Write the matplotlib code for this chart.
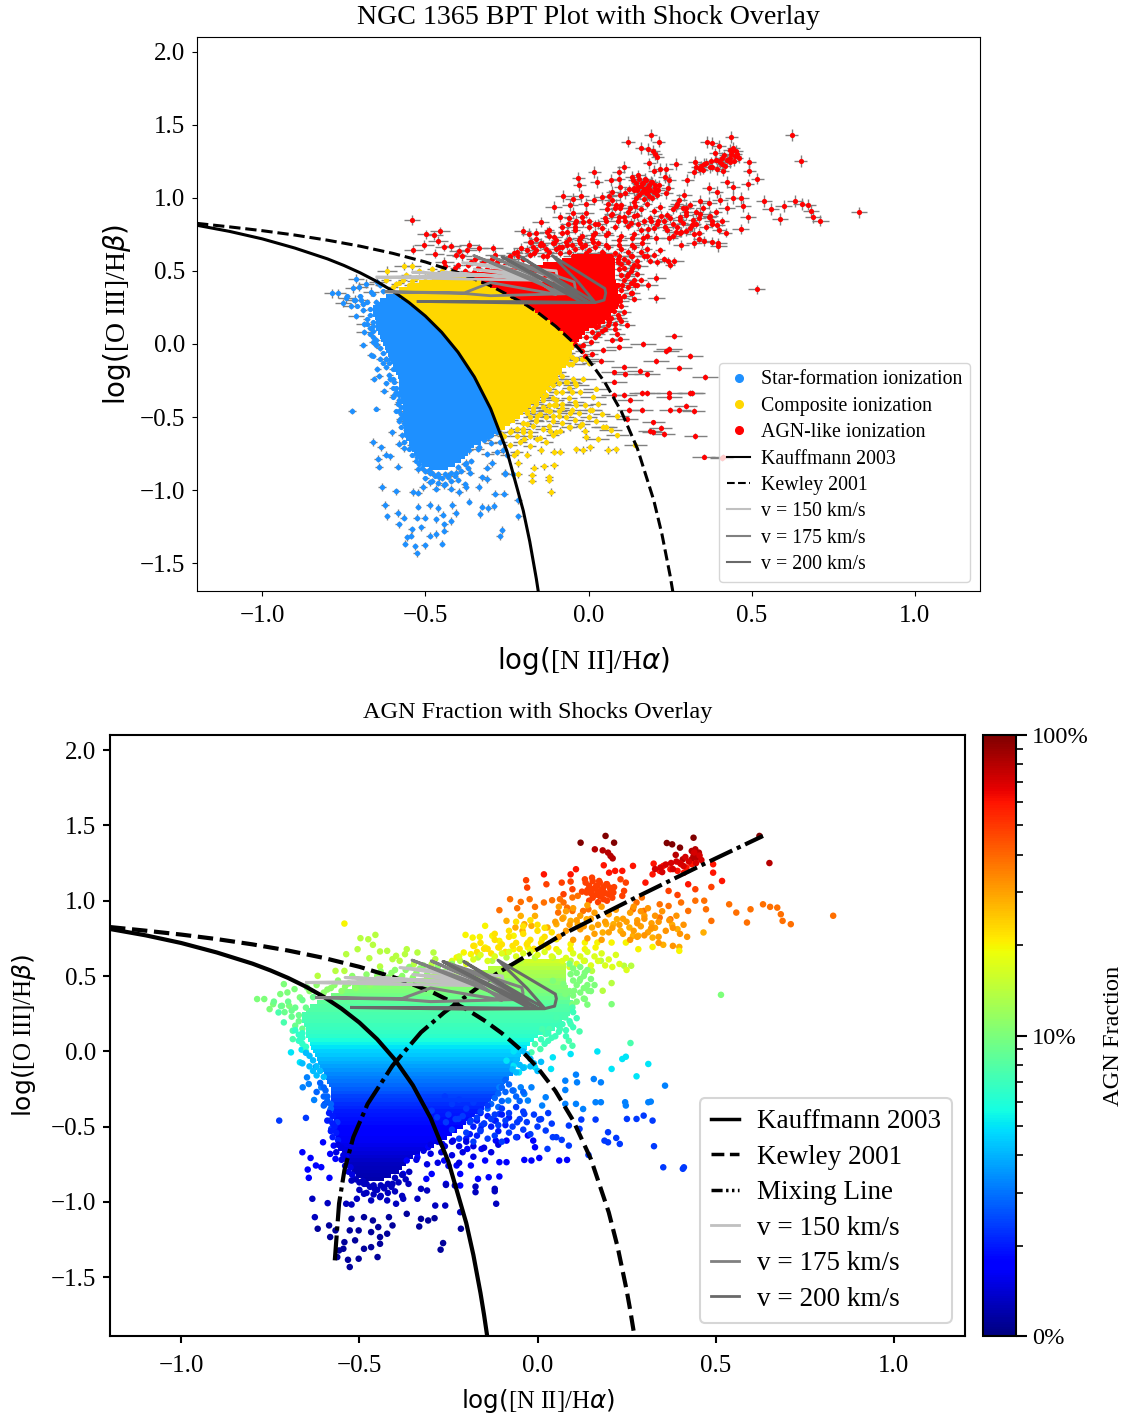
import numpy as np
import matplotlib
matplotlib.use('Agg')
import matplotlib.pyplot as plt
from matplotlib.colors import LogNorm
from matplotlib.cm import ScalarMappable
from matplotlib.lines import Line2D

plt.rcParams['font.family'] = ['Liberation Serif', 'DejaVu Sans']

# demarcation curves
kauf_x = [-1.2, -1.1, -1.0, -0.9, -0.8, -0.75, -0.7, -0.65, -0.6, -0.55, -0.5, -0.45, -0.4, -0.35, -0.3, -0.25, -0.2, -0.18, -0.16, -0.15, -0.14]
kauf_y = [0.812, 0.770, 0.719, 0.656, 0.582, 0.5375, 0.487, 0.429, 0.362, 0.283, 0.191, 0.08, -0.056, -0.225, -0.443, -0.733, -1.14, -1.352, -1.605, -1.75, -1.91]
kew_x = [-1.2, -1.1, -1.0, -0.9, -0.8, -0.7, -0.6, -0.5, -0.4, -0.3, -0.2, -0.15, -0.1, -0.05, 0.0, 0.05, 0.1, 0.15, 0.2, 0.225, 0.25, 0.26, 0.27, 0.275]
kew_y = [0.825, 0.801, 0.775, 0.745, 0.710, 0.669, 0.620, 0.561, 0.489, 0.398, 0.280, 0.206, 0.120, 0.017, -0.108, -0.262, -0.459, -0.716, -1.069, -1.30, -1.583, -1.715, -1.86, -1.94]
mix_x = [-0.569, -0.557, -0.542, -0.517, -0.477, -0.407, -0.327, -0.262, -0.117, 0.063, 0.283, 0.473, 0.633]
mix_y = [-1.388, -1.01, -0.79, -0.57, -0.35, -0.095, 0.126, 0.258, 0.512, 0.767, 1.03, 1.25, 1.43]

# shock grids
v150_x = [-0.648, -0.4, -0.106, -0.095, -0.099, -0.386, -0.14, -0.35, -0.12, -0.45, -0.16, -0.54, -0.3, -0.648]
v150_y = [0.457, 0.445, 0.434, 0.445, 0.5, 0.556, 0.47, 0.51, 0.44, 0.49, 0.45, 0.49, 0.47, 0.457]
v175_x = [-0.62, -0.38, -0.3, -0.041, -0.041, -0.044, -0.265, -0.13, -0.06, -0.298, -0.12, -0.08, -0.352, -0.16, -0.1, -0.3, -0.38, -0.62]
v175_y = [0.357, 0.345, 0.33, 0.345, 0.39, 0.424, 0.596, 0.47, 0.36, 0.6, 0.42, 0.345, 0.605, 0.44, 0.34, 0.42, 0.35, 0.357]
v200_x = [-0.522, -0.2, 0.02, 0.048, 0.053, 0.05, -0.111, -0.03, 0.02, -0.207, -0.05, 0.0, -0.265, -0.08, -0.02, -0.2, -0.522]
v200_y = [0.291, 0.28, 0.283, 0.3, 0.35, 0.38, 0.605, 0.42, 0.285, 0.596, 0.36, 0.285, 0.596, 0.36, 0.285, 0.29, 0.291]

# dense part of the cloud, one row per log(OIII/Hb) step
blob_y = [0.6, 0.575, 0.55, 0.525, 0.5, 0.475, 0.45, 0.425, 0.4, 0.375, 0.35, 0.325, 0.3, 0.275, 0.25, 0.225, 0.2, 0.175, 0.15, 0.125, 0.1, 0.075, 0.05, 0.025, 0.0,
          -0.025, -0.05, -0.075, -0.1, -0.125, -0.15, -0.175, -0.2, -0.225, -0.25, -0.275, -0.3, -0.325, -0.35, -0.375, -0.4, -0.425, -0.45, -0.475, -0.5,
          -0.525, -0.55, -0.575, -0.6, -0.625, -0.65, -0.675, -0.7, -0.725, -0.75, -0.775, -0.8, -0.825, -0.85]
blob_left = [-0.05, -0.08, -0.14, -0.24, -0.32, -0.42, -0.48, -0.52, -0.55, -0.58, -0.6, -0.62, -0.64, -0.65, -0.66, -0.66, -0.66, -0.655, -0.65, -0.65, -0.65, -0.645, -0.64, -0.635, -0.63,
             -0.625, -0.62, -0.615, -0.61, -0.605, -0.6, -0.595, -0.59, -0.585, -0.58, -0.58, -0.58, -0.58, -0.58, -0.575, -0.575, -0.57, -0.57, -0.57, -0.57,
             -0.57, -0.57, -0.565, -0.565, -0.56, -0.56, -0.55, -0.545, -0.54, -0.535, -0.53, -0.52, -0.51, -0.49]
blob_right = [0.07, 0.08, 0.08, 0.08, 0.08, 0.08, 0.08, 0.085, 0.09, 0.09, 0.09, 0.1, 0.1, 0.095, 0.09, 0.08, 0.07, 0.06, 0.05, 0.025, 0.0, -0.01, -0.02, -0.03, -0.04,
              -0.045, -0.05, -0.055, -0.06, -0.065, -0.07, -0.08, -0.09, -0.095, -0.1, -0.11, -0.12, -0.13, -0.14, -0.15, -0.16, -0.175, -0.185, -0.2, -0.21,
              -0.225, -0.24, -0.255, -0.27, -0.29, -0.31, -0.33, -0.35, -0.36, -0.37, -0.38, -0.39, -0.41, -0.43]
blob_frac = [16, 15, 14, 13, 12.6, 11.5, 11, 10.5, 10, 9.5, 9, 8.5, 8, 7.8, 7.6, 7.4, 7.3, 7.1, 6.9, 6.7, 6.4, 5.9, 5.4, 5.0, 4.6,
             4.4, 4.1, 3.9, 3.7, 3.5, 3.3, 3.15, 3.0, 2.85, 2.7, 2.55, 2.4, 2.3, 2.2, 2.1, 2.0, 1.95, 1.9, 1.85, 1.8,
             1.75, 1.7, 1.65, 1.6, 1.55, 1.5, 1.45, 1.4, 1.35, 1.3, 1.27, 1.25, 1.22, 1.2]

# individual points, grouped by estimated AGN fraction and error size
band_frac = [100, 80, 60, 48, 38, 28, 20, 14, 10, 7.5, 5, 5, 3.2, 3.2, 2.3, 2.3, 1.7, 1.3, 1.12,
             48, 70, 30, 22, 17, 11, 10, 9, 7, 6.5, 4.2, 4.2, 2.8, 2.8, 2, 2, 1.5, 1.5, 1.3, 2.3, 32]
band_xerr = [0.02, 0.02, 0.02, 0.02, 0.025, 0.025, 0.025, 0.03, 0.025, 0.025, 0.012, 0.04, 0.012, 0.04, 0.012, 0.035, 0.012, 0.012, 0.01,
             0.015, 0.015, 0.015, 0.015, 0.015, 0.015, 0.02, 0.01, 0.02, 0.01, 0.01, 0.02, 0.01, 0.02, 0.01, 0.02, 0.01, 0.02, 0.01, 0.025, 0.02]
band_yerr = [0.04, 0.04, 0.04, 0.04, 0.04, 0.035, 0.035, 0.03, 0.03, 0.02, 0.02, 0.02, 0.02, 0.02, 0.02, 0.02, 0.025, 0.025, 0.025,
             0.03, 0.03, 0.03, 0.03, 0.025, 0.02, 0.02, 0.015, 0.02, 0.015, 0.015, 0.02, 0.015, 0.02, 0.015, 0.02, 0.015, 0.02, 0.02, 0.02, 0.03]
band_x = [
    [.121, .191, .215, .438, .363, .378, .623, .400],
    [.161, .183, .198, .205, .211, .433, .443, .453, .438, .448, .388, .408, .433, .651],
    [.186, .268, .238, .218, .201, .326, .353, .373, .403, .418, .323, .343, .393, .411, .433, .493, .493, .518, .423, .303, .018, .108, .093],
    [-.032, -.029, .025, .068, .093, .133, .153, .173, .193, .183, .168, .203, .153, .138, .178, .213, .233, .248, .243, .238, .098, .073, .368, .393, .443, .488],
    [-.077, -.047, -.022, .018, .041, .063, .073, .098, .113, .128, .143, .098, .083, .058, .278, .268, .293, .343, .368, .403, .443, .468, .473, .423, .538, .558, .598, .633, .653, .673, .683, .488, .588, .688, .711, .373, .343, .298, -.107, -.057, -.007, .83],
    [-.087, -.062, -.037, -.017, -.042, -.007, -.047, .073, .093, .113, .153, .183, .213, .233, .258, .283, .323, .353, .318, .378, .393, .398, .268, .193, .223, .138, .466, .053, .028],
    [-.202, -.182, -.162, -.147, -.127, -.107, -.067, -.027, .013, .053, .093, .133, .168, .208, .248, .283, .323, .398, -.177, -.147, -.107, -.067, -.027, .013, .053, .093, .133, .163, -.207, -.227, -.187, -.542],
    [-.497, -.475, -.455, -.505, -.462, -.472, -.537, -.442, -.422, -.397, -.367, -.337, -.292, -.287, -.372, -.407, -.247, -.217, -.167, -.127, -.087, -.047, -.007, .043, .093, .133, .178, .243, .263, .153, .208, .183, -.617, -.567, -.542, -.442, -.387, -.347, -.297],
    [-.712, -.702, -.722, -.682, .118, .133, .093, .073, .043, .143, .515, .208, .133, .098, .078, .103, -.787, -.767, -.742, -.717, -.752, -.697, -.667, -.647],
    [-.727, -.712, -.687, -.687, .093, .118, .063, .033, .013, .078, .098, .053, .088, .098, .073, -.007, .023, .261, -.017, .008],
    [-.692, -.662, -.667],
    [.093, .043, .038, .168, .238, .248, .311, .208, -.037, -.067, -.067, -.007, .278, -.087, -.052],
    [-.622, -.647, -.642, -.659, -.607, -.627],
    [.078, .078, .108, .111, .158, .178, .358, -.107, -.047, -.017, -.037, -.027, .023, .013, .078, .108, .128, .163, .178, .246, .248, .311, .318, -.067, -.082],
    [-.725, -.65, -.597, -.582, -.582, -.562, -.579],
    [.005, -.037, -.057, -.107, -.117, -.157, -.187, -.222, -.257, -.282, -.297, .088, .118, .123, .163, .251, .278, .298, .323, .198, .188, .198, .221, .231, .327, .353, .408, .411, .143, .023, .043, .053, .068, .088, .028],
    [-.602, -.572, -.582, -.567, -.537, -.66, -.637, -.622, -.607, -.645, -.584, -.642, -.367, -.337, -.307, -.267, -.237, -.197, -.157, -.117, -.087, -.057, -.027, -.012, -.007, -.037, -.017, .005, .061, .083, -.107, -.087, -.147, -.187, -.227, -.262, -.297, -.312, -.377, -.217, -.167, -.137, -.107, -.257, -.217],
    [-.522, -.487, -.457, -.432, -.407, -.362, -.327, -.31, -.257, -.232, -.174, -.174, -.12, -.12, -.116, -.632, -.589, -.537, -.522, -.507, -.487, -.467, -.442, -.422, -.397, -.377, -.337, -.287, -.259, -.217, -.625],
    [-.617, -.585, -.567, -.582, -.522, -.487, -.462, -.417, -.367, -.327, -.307, -.289, -.332, -.407, -.447, -.467, -.502, -.527, -.422, -.442, -.512, -.542, -.557, -.545, -.532, -.487, -.467, -.442, -.449, -.502, -.527, -.562, -.265, -.272, -.215],
    [.135, .145, .155, .165, .175, .185, .195, .205, .215, .125, .14, .15, .16, .17, .18, .19, .2, .21, .155, .165, .175, .185, .145, .195, .17],
    [.33, .345, .36, .375, .39, .40, .415, .425, .44, .455, .46, .35, .38, .41, .445],
    [.06, .08, .10, .12, .14, .16, .18, .20, .22, .24, .26, .28, .30, .32, .05, .07, .09, .11, .13, .15, .17, .19, .21, .23, .25, .27, .29, .31, .33, .34, .08, .12, .16, .20, .24, .28, .06, .10, .14, .18],
    [-.18, -.16, -.14, -.12, -.10, -.08, -.06, -.04, -.02, 0, .02, .04, -.17, -.15, -.13, -.11, -.09, -.07, -.05, -.03, -.01, .01, .03, -.12, -.08, -.04, 0, -.06, -.02, .02],
    [-.24, -.22, -.20, -.18, -.16, -.14, -.12, -.10, -.08, -.06, -.04, -.02, 0, .02, .04, .06, .08, .10, .12, .14, .16, .18, .20, .22, .11, .13, .15, .17, .19, .09, .07, .21, .23, .25],
    [-.64, -.62, -.60, -.58, -.56, -.54, -.52, -.50, -.48, -.46, -.44, -.42, -.40, -.38, -.36, -.34, -.32, -.30, -.59, -.57, -.55, -.53, -.51, -.49, -.47, -.45, -.43, -.41, -.39, -.37, -.35, -.33, -.31, -.28, -.26, -.24],
    [.09, .10, .11, .12, .13, .14, .15, .10, .11, .12, .13, .14, .09, .10, .12, .13, .15, .16, .11, .14],
    [-.74, -.72, -.70, -.68, -.66, -.71, -.69, -.67, -.65, -.63, -.69, -.67, -.68, -.66],
    [.10, .11, .09, .07, .08, .06, .05, .04, .03, .02, .06, .03, .01, .10, .08],
    [-.68, -.67, -.66, -.67, -.66, -.65, -.66, -.65],
    [-.65, -.64, -.63, -.66, -.64, -.62, -.63, -.61, -.62, -.60],
    [-.04, -.03, -.02, -.06, -.05, -.04, -.07, -.06, -.02, -.01, .0, .01],
    [-.61, -.6, -.595, -.62, -.60, -.59, -.59, -.58, -.60, -.58],
    [-.09, -.08, -.10, -.09, -.11, -.07, -.12, -.10, -.13, -.11, -.06, -.05, -.04, -.14],
    [-.585, -.575, -.59, -.575, -.57, -.58, -.565, -.575, -.56],
    [-.16, -.14, -.17, -.15, -.18, -.16, -.19, -.17, -.20, -.13, -.12, -.11, -.10, -.09, -.08],
    [-.56, -.55, -.565, -.545, -.55, -.535, -.54, -.525, -.53, -.52],
    [-.30, -.28, -.26, -.24, -.22, -.20, -.18, -.32, -.30, -.27, -.24, -.21, -.18, -.15, -.13, -.11, -.34, -.31, -.28, -.25, -.22],
    [-.51, -.50, -.49, -.48, -.47, -.46, -.45, -.44, -.43, -.42, -.41, -.40, -.39, -.38, -.37, -.36, -.50, -.48, -.46, -.44, -.42, -.40, -.38],
    [-.26, -.24, -.22, -.20, -.18, -.16, -.14, -.12, -.10, -.08, -.06, -.04, -.25, -.23, -.21, -.19, -.17, -.15, -.13, -.11, -.09, -.07, -.05, -.03, -.01, .01, .03, -.24, -.20, -.16, -.12, -.08, -.04, 0, .04, -.22, -.18, -.14, -.10, -.06, -.02],
    [.27, .29, .31, .33, .35, .37, .39, .41, .28, .30, .32, .34, .36, .38, .40, .42, .26, .30, .34, .38],
]
band_y = [
    [1.385, 1.43, 1.385, 1.418, 1.383, 1.374, 1.43, 1.352],
    [1.341, 1.334, 1.319, 1.297, 1.281, 1.33, 1.341, 1.319, 1.297, 1.286, 1.304, 1.275, 1.275, 1.25],
    [1.235, 1.231, 1.198, 1.198, 1.186, 1.246, 1.231, 1.209, 1.242, 1.22, 1.175, 1.198, 1.198, 1.186, 1.242, 1.242, 1.186, 1.131, 1.109, 1.12, 1.175, 1.209, 1.175],
    [1.136, 1.087, 1.109, 1.12, 1.127, 1.142, 1.153, 1.131, 1.109, 1.076, 1.098, 1.087, 1.076, 1.054, 1.032, 1.054, 1.142, 1.12, 1.065, 1.032, 1.076, 1.043, 1.065, 1.038, 1.076, 1.091],
    [1.01, .992, 1.01, .988, 1.003, 1.01, .988, 1.021, 1.032, .932, .943, .932, .954, .921, .988, .943, 1.021, .976, .965, .988, 1.0, 1.0, .943, .932, .976, .921, .943, .976, .959, .954, .91, .866, .855, .866, .844, .877, .888, .932, .937, .95, .959, .90],
    [.866, .822, .844, .833, .8, .899, .899, .888, .866, .844, .822, .789, .844, .8, .822, .767, .755, .707, .811, .84, .811, .693, .767, .844, .877, .877, .789, .844, .822],
    [.773, .755, .76, .833, .767, .733, .767, .722, .744, .744, .711, .722, .722, .722, .722, .678, .693, .667, .7, .689, .689, .678, .689, .7, .678, .678, .678, .689, .656, .623, .645, .848],
    [.751, .744, .773, .678, .707, .618, .645, .663, .667, .634, .678, .656, .656, .612, .645, .612, .579, .601, .623, .601, .623, .601, .623, .623, .601, .601, .601, .568, .568, .534, .453, .402, .501, .534, .534, .563, .601, .579, .579],
    [.446, .391, .38, .413, .468, .523, .512, .446, .468, .402, .375, .313, .347, .313, .38, .402, .347, .347, .313, .302, .28, .302, .358, .424],
    [.258, .192, .137, .081, .181, .132, .148, .148, .148, .225, .291, .225, .07, .037, .026, .048, .115, .055, -.007, .015],
    [-.007, .011, -.073],
    [-.018, -.04, -.117, -.001, -.051, -.036, -.084, -.117, -.106, -.095, .0, -.106, -.166, -.062, -.14],
    [-.102, -.173, -.217, -.239, -.239, -.323],
    [-.195, -.257, -.155, -.206, -.184, -.206, -.228, -.239, -.239, -.239, -.283, -.327, -.305, -.36, -.349, -.349, -.383, -.338, -.338, -.338, -.36, -.338, -.334, -.261, -.327],
    [-.46, -.442, -.35, -.394, -.46, -.471, -.515],
    [-.453, -.416, -.471, -.416, -.46, -.493, -.46, -.449, -.471, -.438, -.394, -.493, -.515, -.453, -.453, -.449, -.449, -.427, -.46, -.537, -.593, -.604, -.575, -.615, -.63, -.77, -.78, -.77, -.688, -.526, -.57, -.57, -.588, -.626, -.648],
    [-.604, -.626, -.681, -.714, -.703, -.67, -.708, -.758, -.769, -.785, -.84, -.84, -.725, -.703, -.637, -.615, -.593, -.648, -.648, -.593, -.593, -.57, -.559, -.593, -.637, -.721, -.725, -.708, -.725, -.721, -.736, -.736, -.725, -.758, -.758, -.725, -.814, -.847, -.814, -.814, -.847, -.836, -.831, -.88, -.891],
    [-.858, -.88, -.913, -.902, -.88, -.88, -.913, -.924, -.887, -.891, -.898, -.935, -.913, -.929, -1.012, -.979, -1.008, -1.012, -1.017, -.979, -.946, -.99, -.968, -.99, -1.012, -.979, -.979, -1.024, -1.024, -1.068, -1.101],
    [-1.178, -1.156, -1.189, -1.233, -1.112, -1.101, -1.123, -1.101, -1.079, -1.112, -1.123, -1.108, -1.163, -1.156, -1.167, -1.2, -1.189, -1.189, -1.211, -1.233, -1.255, -1.267, -1.322, -1.311, -1.384, -1.311, -1.3, -1.278, -1.366, -1.377, -1.432, -1.366, -1.273, -1.317, -1.178],
    [1.12, 1.10, 1.13, 1.10, 1.12, 1.09, 1.11, 1.07, 1.09, 1.06, 1.07, 1.05, 1.08, 1.06, 1.07, 1.05, 1.04, 1.02, 1.02, 1.04, 1.03, 1.01, 1.00, 1.0, .99],
    [1.21, 1.22, 1.24, 1.25, 1.26, 1.25, 1.29, 1.26, 1.32, 1.30, 1.27, 1.19, 1.21, 1.23, 1.25],
    [.96, .93, .95, .90, .97, .92, .96, .91, .94, .88, .92, .87, .90, .85, .86, .88, .84, .87, .83, .88, .84, .86, .82, .84, .86, .80, .83, .79, .82, .76, .80, .81, .78, .79, .78, .76, .76, .74, .75, .74],
    [.70, .72, .68, .74, .71, .76, .72, .78, .74, .80, .76, .79, .66, .68, .65, .69, .66, .70, .68, .71, .68, .72, .69, .78, .80, .83, .84, .86, .87, .82],
    [.60, .63, .58, .61, .64, .60, .63, .65, .66, .63, .65, .66, .64, .66, .63, .66, .62, .65, .63, .66, .63, .65, .61, .64, .58, .60, .57, .60, .57, .56, .60, .56, .58, .54],
    [.40, .44, .39, .42, .47, .43, .50, .46, .51, .47, .53, .49, .54, .50, .56, .52, .57, .54, .41, .44, .40, .45, .42, .47, .44, .50, .46, .52, .48, .54, .49, .55, .51, .56, .53, .58],
    [.58, .55, .52, .56, .50, .54, .48, .47, .44, .48, .42, .44, .40, .37, .39, .35, .40, .44, .33, .31],
    [.33, .30, .33, .29, .34, .26, .27, .24, .29, .36, .23, .20, .17, .15],
    [.26, .22, .20, .18, .14, .13, .10, .09, .07, .05, .17, .12, .08, .16, .1],
    [.14, .11, .09, .07, .05, .03, .12, .0],
    [-.01, -.03, -.06, -.08, -.1, -.1, -.13, -.13, -.16, -.17],
    [.0, -.02, -.05, -.06, -.09, -.11, -.12, -.14, -.1, -.08, -.13, -.07],
    [-.21, -.24, -.26, -.27, -.3, -.3, -.33, -.35, -.36, -.38],
    [-.19, -.22, -.24, -.27, -.28, -.26, -.31, -.33, -.35, -.37, -.30, -.33, -.27, -.38],
    [-.41, -.43, -.46, -.48, -.5, -.53, -.54, -.57, -.59],
    [-.41, -.43, -.46, -.48, -.5, -.52, -.55, -.56, -.58, -.50, -.46, -.53, -.42, -.49, -.44],
    [-.62, -.64, -.67, -.69, -.72, -.72, -.76, -.77, -.8, -.82],
    [-.62, -.60, -.63, -.60, -.63, -.60, -.63, -.66, -.68, -.67, -.69, -.67, -.70, -.64, -.67, -.62, -.72, -.75, -.74, -.76, -.74],
    [-.85, -.87, -.86, -.88, -.90, -.89, -.92, -.89, -.91, -.88, -.90, -.84, -.87, -.82, -.85, -.80, -.92, -.94, -.95, -.96, -.94, -.93, -.96],
    [-.30, -.35, -.32, -.38, -.34, -.40, -.36, -.42, -.38, -.41, -.37, -.40, -.42, -.45, -.43, -.47, -.44, -.48, -.45, -.49, -.46, -.50, -.45, -.47, -.42, -.45, -.41, -.52, -.54, -.53, -.56, -.54, -.52, -.5, -.48, -.58, -.6, -.58, -.6, -.57, -.55],
    [.96, .93, .95, .90, .93, .87, .90, .84, .85, .88, .82, .86, .80, .82, .78, .76, .74, .77, .72, .70],
]

x_ticks = [-1.0, -0.5, 0.0, 0.5, 1.0]
y_ticks = [-1.5, -1.0, -0.5, 0.0, 0.5, 1.0, 1.5, 2.0]
cbar_ticks = [1, 10, 100]
cbar_labels = ['0%', '10%', '100%']

W, H = 1128, 1421
fig = plt.figure(figsize=(W / 100, H / 100), dpi=100)
ax1 = fig.add_axes([197 / W, 1 - 591 / H, 783 / W, 554 / H])
ax2 = fig.add_axes([110 / W, 1 - 1336 / H, 855 / W, 601 / H])
cax = fig.add_axes([983 / W, 1 - 1336 / H, 33 / W, 601 / H])

norm = LogNorm(vmin=1, vmax=100)
cmap = plt.get_cmap('jet')
SF, COMP, AGN = 'dodgerblue', 'gold', 'red'

# flatten the point groups
px = np.concatenate(band_x)
py = np.concatenate(band_y)
pf = np.concatenate([np.full(len(a), f) for a, f in zip(band_x, band_frac)])
pxe = np.concatenate([np.full(len(a), e) for a, e in zip(band_x, band_xerr)])
pye = np.concatenate([np.full(len(a), e) for a, e in zip(band_x, band_yerr)])

# classify against the two curves
below_kauf = py < np.interp(px, kauf_x, kauf_y)
below_kew = py < np.interp(px, kew_x, kew_y)
is_sf = below_kauf
is_comp = ~below_kauf & below_kew
is_agn = ~below_kew

# top panel
by = np.array(blob_y)
bl = np.array(blob_left)
br = np.array(blob_right)
kauf_at = np.interp(by, kauf_y[::-1], kauf_x[::-1])
kew_at = np.interp(by, kew_y[::-1], kew_x[::-1])
h = 0.028
sf_r = np.minimum(br, kauf_at)
ax1.errorbar(px, py, xerr=pxe, yerr=pye, fmt='none', ecolor='gray', elinewidth=1, zorder=1)
ax1.barh(by, np.maximum(sf_r - bl, 0), left=bl, height=h, color=SF, zorder=2)
comp_l = np.maximum(bl, kauf_at)
comp_r = np.minimum(br, kew_at)
ax1.barh(by, np.maximum(comp_r - comp_l, 0), left=comp_l, height=h, color=COMP, zorder=2)
agn_l = np.maximum(bl, kew_at)
ax1.barh(by, np.maximum(br - agn_l, 0), left=agn_l, height=h, color=AGN, zorder=2)
ax1.scatter(px[is_sf], py[is_sf], s=14, color=SF, linewidths=0, zorder=3)
ax1.scatter(px[is_comp], py[is_comp], s=14, color=COMP, linewidths=0, zorder=3)
ax1.scatter(px[is_agn], py[is_agn], s=14, color=AGN, linewidths=0, zorder=3)
ax1.plot(kauf_x, kauf_y, color='k', lw=2.2, zorder=4)
ax1.plot(kew_x, kew_y, color='k', lw=2.2, ls='--', zorder=4)
ax1.plot(v150_x, v150_y, color='silver', lw=2, zorder=5)
ax1.plot(v175_x, v175_y, color='gray', lw=2, zorder=5)
ax1.plot(v200_x, v200_y, color='dimgray', lw=2, zorder=5)
ax1.set_xlim(-1.2, 1.2)
ax1.set_ylim(-1.69, 2.1)
ax1.set_xticks(x_ticks)
ax1.set_yticks(y_ticks)
ax1.tick_params(labelsize=18)
ax1.tick_params(axis='x', pad=6.5)
ax1.tick_params(axis='y', pad=5)
ax1.set_title('NGC 1365 BPT Plot with Shock Overlay', fontsize=20.2, pad=9)
ax1.set_xlabel(r'$\log($[N II]/H$\alpha)$', fontsize=20, labelpad=13, x=0.493)
ax1.set_ylabel(r'$\log($[O III]/H$\beta)$', fontsize=20, labelpad=5)
handles1 = [
    Line2D([], [], ls='', marker='o', ms=5.5, color=SF, label='Star-formation ionization'),
    Line2D([], [], ls='', marker='o', ms=5.5, color=COMP, label='Composite ionization'),
    Line2D([], [], ls='', marker='o', ms=5.5, color=AGN, label='AGN-like ionization'),
    Line2D([], [], color='k', lw=1.5, label='Kauffmann 2003'),
    Line2D([], [], color='k', lw=1.5, ls='--', label='Kewley 2001'),
    Line2D([], [], color='silver', lw=1.5, label='v = 150 km/s'),
    Line2D([], [], color='gray', lw=1.5, label='v = 175 km/s'),
    Line2D([], [], color='dimgray', lw=1.5, label='v = 200 km/s'),
]
ax1.legend(handles=handles1, loc='lower right', fontsize=14.3, bbox_to_anchor=(0.9875, 0.0165), borderaxespad=0,
           handlelength=1.15, handletextpad=0.55, labelspacing=0.37)

# bottom panel
ax2.barh(by, br - bl, left=bl, height=h, color=cmap(norm(np.array(blob_frac))), zorder=1)
ax2.scatter(px, py, c=pf, s=22, cmap=cmap, norm=norm, linewidths=0, zorder=2)
ax2.plot(kauf_x, kauf_y, color='k', lw=3, zorder=3)
ax2.plot(kew_x, kew_y, color='k', lw=3, ls='--', zorder=3)
ax2.plot(mix_x, mix_y, color='k', lw=3, ls=(0, (6, 1.2, 1, 1.2)), zorder=3)
ax2.plot(v150_x, v150_y, color='silver', lw=2.2, zorder=4)
ax2.plot(v175_x, v175_y, color='gray', lw=2.2, zorder=4)
ax2.plot(v200_x, v200_y, color='dimgray', lw=2.2, zorder=4)
ax2.set_xlim(-1.2, 1.2)
ax2.set_ylim(-1.89, 2.1)
ax2.set_xticks(x_ticks)
ax2.set_yticks(y_ticks)
ax2.tick_params(labelsize=18, width=1.5, length=5)
ax2.tick_params(axis='x', pad=9)
ax2.tick_params(axis='y', pad=5)
for s in ax2.spines.values():
    s.set_linewidth(1.5)
ax2.set_title('AGN Fraction with Shocks Overlay', fontsize=17.5, pad=12.5)
ax2.set_xlabel(r'$\log($[N II]/H$\alpha)$', fontsize=17.7, labelpad=7)
ax2.set_ylabel(r'$\log($[O III]/H$\beta)$', fontsize=18, labelpad=9)
handles2 = [
    Line2D([], [], color='k', lw=2.5, label='Kauffmann 2003'),
    Line2D([], [], color='k', lw=2.5, ls='--', label='Kewley 2001'),
    Line2D([], [], color='k', lw=2.5, ls=(0, (3.2, 1, 0.7, 1, 0.7, 1)), label='Mixing Line'),
    Line2D([], [], color='silver', lw=2, label='v = 150 km/s'),
    Line2D([], [], color='gray', lw=2, label='v = 175 km/s'),
    Line2D([], [], color='dimgray', lw=2, label='v = 200 km/s'),
]
leg = ax2.legend(handles=handles2, loc='lower right', fontsize=19.5, bbox_to_anchor=(0.9845, 0.022), borderaxespad=0,
                 handlelength=1.05, handletextpad=0.65, labelspacing=0.39)
leg.get_frame().set_linewidth(1.5)

# colour bar
cb = fig.colorbar(ScalarMappable(norm=norm, cmap=cmap), cax=cax)
cb.set_ticks(cbar_ticks)
cb.set_ticklabels(cbar_labels)
cb.ax.tick_params(labelsize=17.6, width=1.5, length=8)
cb.ax.tick_params(which='minor', width=1.2, length=5)
cb.outline.set_linewidth(1.5)
cb.set_label('AGN Fraction', fontsize=17.6, labelpad=10)

fig.savefig('out.png', dpi=100)
